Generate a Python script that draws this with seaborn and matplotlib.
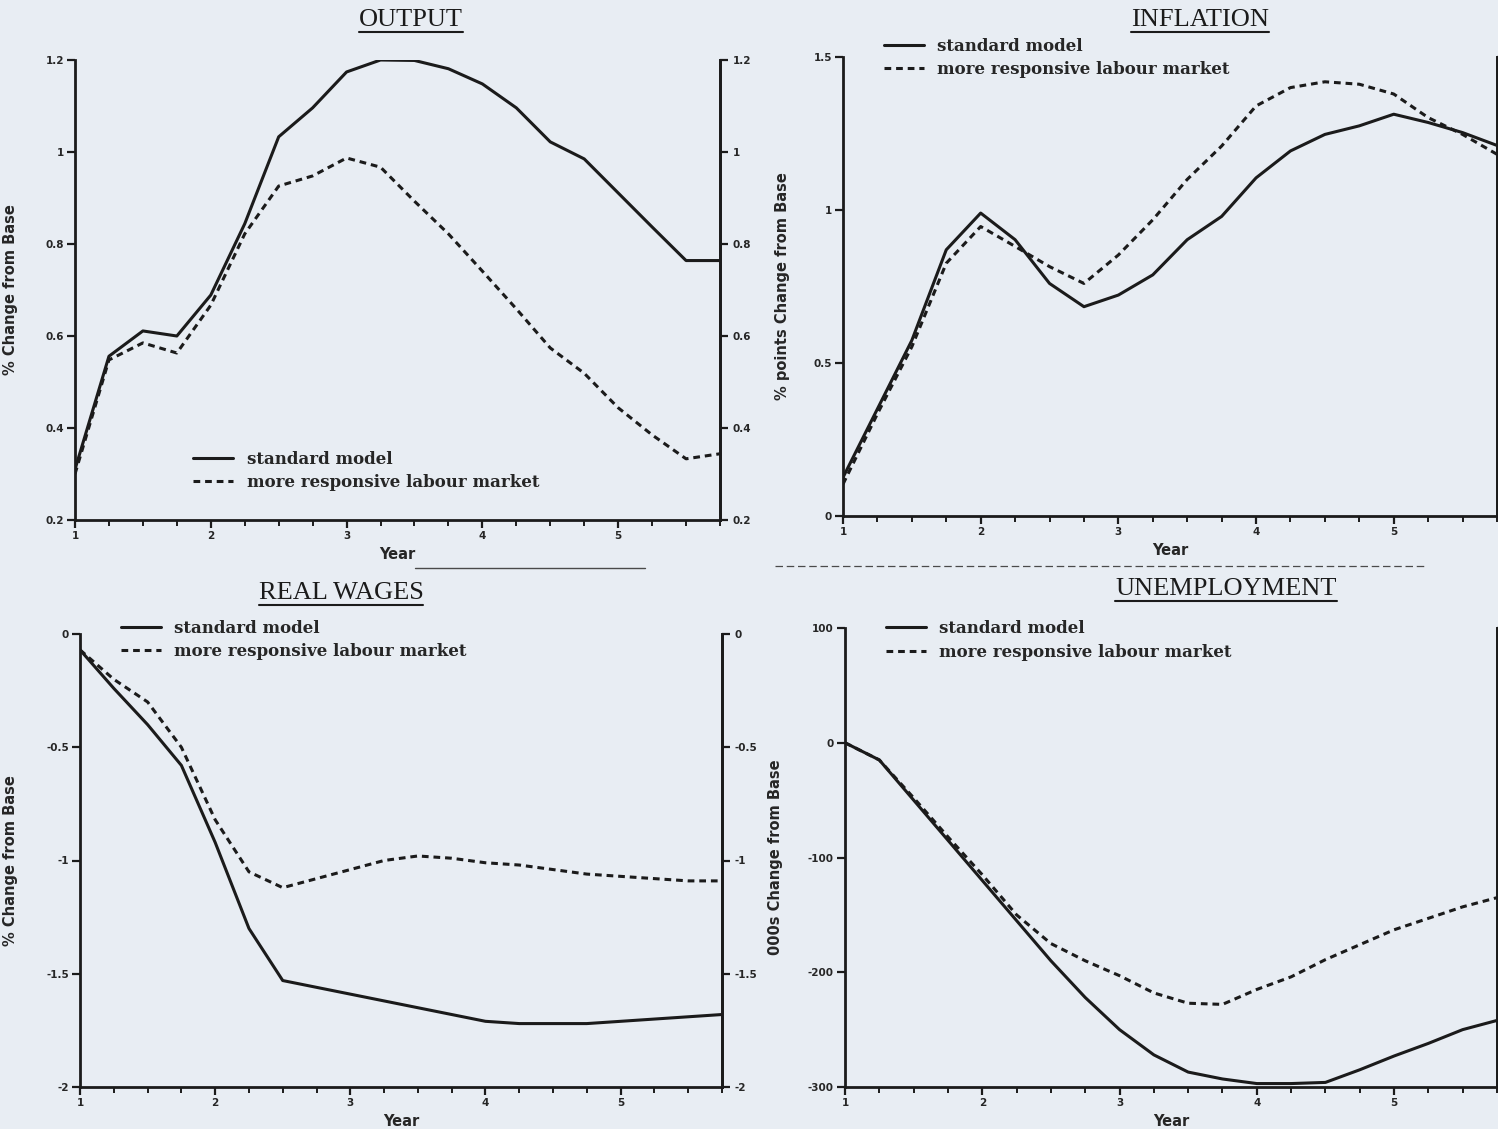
import matplotlib
matplotlib.use("Agg")
import numpy as np
import pandas as pd
import seaborn as sns
import matplotlib.pyplot as plt
from matplotlib.lines import Line2D

# ---------------- data ----------------
quarters = [1.0, 1.25, 1.5, 1.75, 2.0, 2.25, 2.5, 2.75, 3.0, 3.25,
            3.5, 3.75, 4.0, 4.25, 4.5, 4.75, 5.0, 5.25, 5.5, 5.75]
series_names = ["standard model", "more responsive labour market"]
year_ticks = [1, 2, 3, 4, 5]
year_labels = ["1", "2", "3", "4", "5"]

output_standard = [0.31, 0.556, 0.611, 0.60, 0.689, 0.844, 1.033, 1.096, 1.174, 1.20,
                   1.199, 1.181, 1.148, 1.096, 1.022, 0.985, 0.911, 0.837, 0.764, 0.764]
output_responsive = [0.30, 0.548, 0.585, 0.563, 0.667, 0.822, 0.926, 0.948, 0.987, 0.967,
                     0.893, 0.822, 0.741, 0.659, 0.574, 0.519, 0.444, 0.385, 0.333, 0.344]
output_ticks = [0.2, 0.4, 0.6, 0.8, 1.0, 1.2]
output_ticklabels = ["0.2", "0.4", "0.6", "0.8", "1", "1.2"]

inflation_standard = [0.126, 0.35, 0.574, 0.87, 0.99, 0.903, 0.76, 0.684, 0.722, 0.788,
                      0.903, 0.979, 1.105, 1.193, 1.247, 1.275, 1.313, 1.286, 1.253, 1.211]
inflation_responsive = [0.104, 0.334, 0.553, 0.826, 0.946, 0.881, 0.815, 0.76, 0.853, 0.968,
                        1.10, 1.209, 1.34, 1.40, 1.419, 1.411, 1.379, 1.302, 1.247, 1.182]
inflation_ticks = [0.0, 0.5, 1.0, 1.5]
inflation_ticklabels = ["0", "0.5", "1", "1.5"]

wages_standard = [-0.07, -0.24, -0.40, -0.58, -0.92, -1.30, -1.53, -1.56, -1.59, -1.62,
                  -1.65, -1.68, -1.71, -1.72, -1.72, -1.72, -1.71, -1.70, -1.69, -1.68]
wages_responsive = [-0.07, -0.20, -0.30, -0.50, -0.82, -1.05, -1.12, -1.08, -1.04, -1.00,
                    -0.98, -0.99, -1.01, -1.02, -1.04, -1.06, -1.07, -1.08, -1.09, -1.09]
wages_ticks = [0.0, -0.5, -1.0, -1.5, -2.0]
wages_ticklabels = ["0", "-0.5", "-1", "-1.5", "-2"]

unemp_standard = [0, -15, -50, -85, -120, -155, -190, -222, -250, -272,
                  -287, -293, -297, -297, -296, -285, -273, -262, -250, -242]
unemp_responsive = [0, -15, -48, -82, -115, -150, -175, -190, -203, -218,
                    -227, -228, -215, -204, -189, -176, -163, -153, -143, -135]
unemp_ticks = [100, 0, -100, -200, -300]
unemp_ticklabels = ["100", "0", "-100", "-200", "-300"]

# ---------------- style ----------------
sns.set_theme(style="ticks")
plt.rcParams["font.family"] = ["DejaVu Sans"]
INK = "#1b1b1b"
BG = "#e8edf3"

W, H = 1498, 1129
fig = plt.figure(figsize=(W / 100, H / 100), dpi=100)
fig.patch.set_facecolor(BG)


def px_axes(left, right, top, bottom):
    return [left / W, 1 - bottom / H, (right - left) / W, (bottom - top) / H]


tick_font = dict(family="DejaVu Sans", weight="bold", size=7.5)
label_font = dict(family="DejaVu Sans", weight="bold", size=10.5)
legend_prop = dict(family="DejaVu Serif", weight="bold", size=12)


def panel(rect, std, resp, ylim, yticks, yticklabels, ylabel, ylabel_x,
          right_labels, legend_loc, legend_anchor):
    ax = fig.add_axes(rect)
    ax.set_facecolor("none")
    df = pd.DataFrame({
        "Year": quarters * 2,
        "Value": list(std) + list(resp),
        "Scenario": [series_names[0]] * len(quarters) + [series_names[1]] * len(quarters),
    })
    sns.lineplot(data=df, x="Year", y="Value", style="Scenario",
                 dashes={series_names[0]: "", series_names[1]: (2.2, 1.6)},
                 color=INK, linewidth=2.2, ax=ax, legend=False)
    ax.set_xlim(1, 5.75)
    ax.set_ylim(*ylim)
    ax.set_xticks(year_ticks)
    ax.set_xticklabels(year_labels, fontdict=tick_font)
    ax.set_xticks(quarters, minor=True)
    ax.set_yticks(yticks)
    ax.set_yticklabels(yticklabels, fontdict=tick_font)
    ax.tick_params(axis="both", which="major", direction="out", length=6,
                   width=1.6, color=INK, pad=2)
    ax.tick_params(axis="x", which="minor", direction="out", length=4,
                   width=1.4, color=INK)
    for side in ["left", "bottom", "right"]:
        ax.spines[side].set_visible(True)
        ax.spines[side].set_linewidth(2.0)
        ax.spines[side].set_color(INK)
    ax.spines["top"].set_visible(False)
    ax.set_xlabel("Year", fontdict=label_font, labelpad=4)
    ax.set_ylabel(ylabel, fontdict=label_font)
    ax.yaxis.set_label_coords(ylabel_x, 0.5)

    ax2 = ax.twinx()
    ax2.set_ylim(*ylim)
    ax2.set_yticks(yticks)
    if right_labels:
        ax2.set_yticklabels(yticklabels, fontdict=tick_font)
    else:
        ax2.set_yticklabels([])
    ax2.tick_params(axis="y", direction="out", length=6, width=1.6, color=INK, pad=3)
    for side in ["left", "top", "bottom"]:
        ax2.spines[side].set_visible(False)
    ax2.spines["right"].set_linewidth(2.0)
    ax2.spines["right"].set_color(INK)
    ax2.grid(False)

    handles = [Line2D([0], [0], color=INK, lw=2.2, linestyle="-"),
               Line2D([0], [0], color=INK, lw=2.2, dashes=(2.2, 1.6))]
    ax.legend(handles, series_names, loc=legend_loc, bbox_to_anchor=legend_anchor,
              frameon=False, handlelength=2.4, handletextpad=0.8,
              labelspacing=0.4, prop=legend_prop)
    return ax


ax_out = panel(px_axes(75, 720, 60, 520), output_standard, output_responsive,
               (0.2, 1.2), output_ticks, output_ticklabels,
               "% Change from Base", -0.088, True, "lower left", (0.16, 0.03))
ax_inf = panel(px_axes(843, 1497, 57, 516), inflation_standard, inflation_responsive,
               (0.0, 1.5), inflation_ticks, inflation_ticklabels,
               "% points Change from Base", -0.081, False, "upper left", (0.04, 1.075))
ax_wag = panel(px_axes(80, 722, 634, 1087), wages_standard, wages_responsive,
               (-2.0, 0.0), wages_ticks, wages_ticklabels,
               "% Change from Base", -0.097, True, "upper left", (0.04, 1.065))
ax_une = panel(px_axes(845, 1497, 628, 1087), unemp_standard, unemp_responsive,
               (-300, 100), unemp_ticks, unemp_ticklabels,
               "000s Change from Base", -0.095, False, "upper left", (0.04, 1.05))

# titles (underlined)
titles = [("OUTPUT", 411, 20), ("INFLATION", 1200, 20),
          ("REAL WAGES", 341, 593), ("UNEMPLOYMENT", 1226, 589)]
title_texts = []
for label, x, y in titles:
    t = fig.text(x / W, 1 - y / H, label, ha="center", va="center",
                 family="Liberation Serif", size=19, color=INK)
    title_texts.append(t)

fig.canvas.draw()
renderer = fig.canvas.get_renderer()
for t in title_texts:
    bb = t.get_window_extent(renderer)
    yline = (bb.y0 - 1) / fig.bbox.height
    fig.add_artist(Line2D([bb.x0 / fig.bbox.width, bb.x1 / fig.bbox.width],
                          [yline, yline], color=INK, lw=1.5))

# faint separator rules from the scanned page
fig.add_artist(Line2D([415 / W, 645 / W], [1 - 568 / H] * 2, color="#4a4a4a", lw=1.0))
fig.add_artist(Line2D([775 / W, 1425 / W], [1 - 566 / H] * 2, color="#4a4a4a", lw=0.9,
                      dashes=(6, 3)))

fig.savefig("out.png", dpi=100, facecolor=BG)
